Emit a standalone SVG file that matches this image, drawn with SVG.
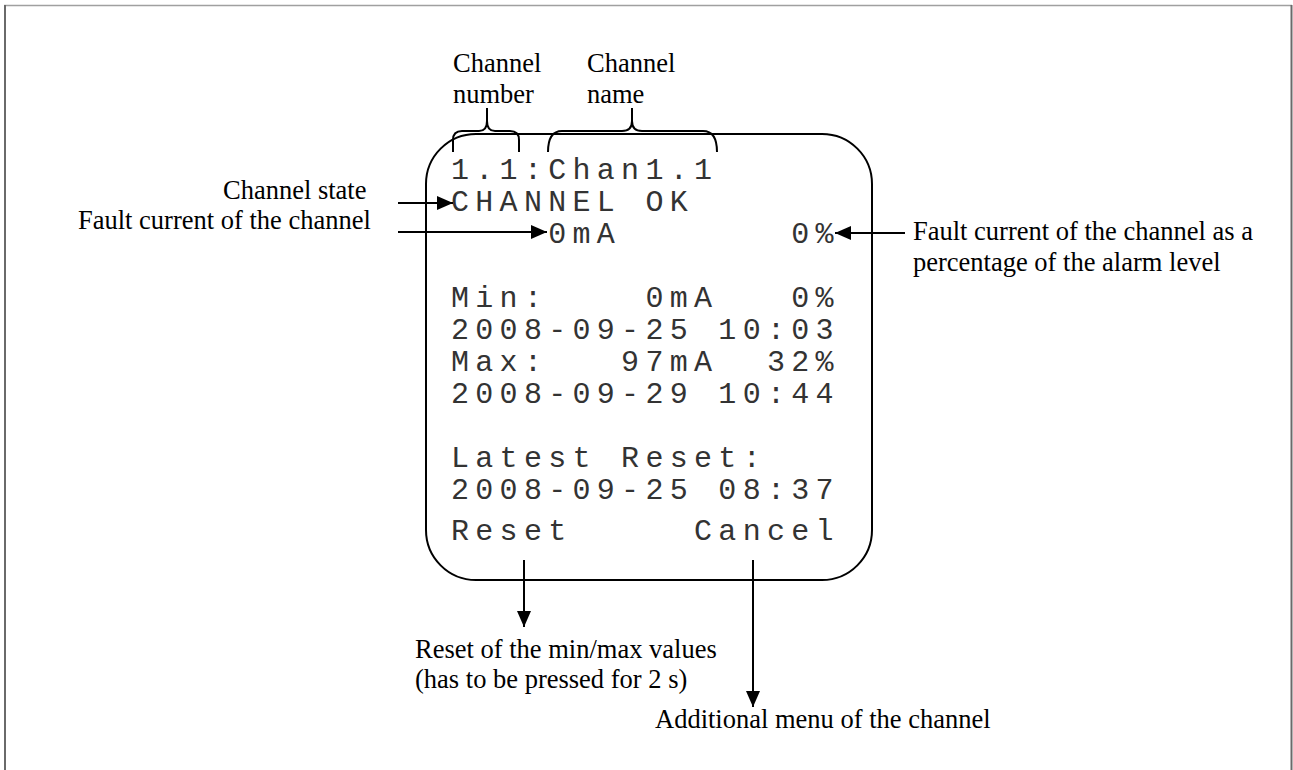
<svg xmlns="http://www.w3.org/2000/svg" width="1293" height="770" viewBox="0 0 1293 770">
  <style>
    .label { font-family: "Liberation Serif", "Times New Roman", serif; font-size: 26.5px; fill: #000; }
    .mono { font-family: "Liberation Mono", "Courier New", monospace; font-size: 30px; letter-spacing: 6.3px; fill: #333; }
    .wire { fill: none; stroke: #000; stroke-width: 2; }
    .brace { fill: none; stroke: #000; stroke-width: 2; stroke-linejoin: round; }
  </style>
  <defs>
    <marker id="head" markerUnits="userSpaceOnUse" markerWidth="16" markerHeight="14" refX="16" refY="7" orient="auto">
      <path d="M0,0 L16,7 L0,14 z" fill="#000"/>
    </marker>
  </defs>

  <rect width="1293" height="770" fill="#fff"/>

  <!-- page frame -->
  <g id="frame">
    <line x1="4" y1="5.5" x2="1292" y2="5.5" stroke="#a0a0a0" stroke-width="1.5"/>
    <line x1="5" y1="5" x2="5" y2="770" stroke="#6a6a6a" stroke-width="2"/>
    <line x1="1291.5" y1="5" x2="1291.5" y2="770" stroke="#6a6a6a" stroke-width="2"/>
  </g>

  <!-- display screen -->
  <g id="screen">
    <rect x="426" y="134" width="446" height="446" rx="50" ry="50" fill="none" stroke="#000" stroke-width="2"/>
    <text class="mono" x="451" y="179">1.1:Chan1.1</text>
    <text class="mono" x="451" y="211">CHANNEL OK</text>
    <text class="mono" x="451" y="243" xml:space="preserve">    0mA       0%</text>
    <text class="mono" x="451" y="307" xml:space="preserve">Min:    0mA   0%</text>
    <text class="mono" x="451" y="339">2008-09-25 10:03</text>
    <text class="mono" x="451" y="371" xml:space="preserve">Max:   97mA  32%</text>
    <text class="mono" x="451" y="403">2008-09-29 10:44</text>
    <text class="mono" x="451" y="467">Latest Reset:</text>
    <text class="mono" x="451" y="499">2008-09-25 08:37</text>
    <text class="mono" x="451" y="540" xml:space="preserve">Reset     Cancel</text>
  </g>

  <!-- channel number label with brace -->
  <g id="channel-number">
    <text class="label" x="453" y="72">Channel</text>
    <text class="label" x="453" y="103">number</text>
    <path class="brace" d="M453,152 V140 Q453,131 462,131 H479 Q487,131 487,121 V108 M487,121 Q487,131 495,131 H510 Q519,131 519,140 V152"/>
  </g>

  <!-- channel name label with brace -->
  <g id="channel-name">
    <text class="label" x="587" y="72">Channel</text>
    <text class="label" x="587" y="103">name</text>
    <path class="brace" d="M548,152 Q548,131 562,131 H622 Q632,131 632,121 V108 M632,121 Q632,131 642,131 H703 Q717,131 717,152"/>
  </g>

  <g id="channel-state">
    <text class="label" x="223" y="199">Channel state</text>
  </g>

  <g id="fault-current">
    <text class="label" x="78" y="229">Fault current of the channel</text>
  </g>

  <g id="fault-percent">
    <text class="label" x="913" y="240">Fault current of the channel as a</text>
    <text class="label" x="913" y="271">percentage of the alarm level</text>
  </g>

  <g id="reset-note">
    <text class="label" x="415" y="658">Reset of the min/max values</text>
    <text class="label" x="415" y="688">(has to be pressed for 2 s)</text>
  </g>

  <g id="menu-note">
    <text class="label" x="655" y="728">Additional menu of the channel</text>
  </g>

  <!-- connectors -->
  <g id="connectors">
    <path class="wire" d="M398,203 H453" marker-end="url(#head)"/>
    <path class="wire" d="M398,232 H547" marker-end="url(#head)"/>
    <path class="wire" d="M905,233 H835" marker-end="url(#head)"/>
    <path class="wire" d="M524,560 V627" marker-end="url(#head)"/>
    <path class="wire" d="M753,560 V707" marker-end="url(#head)"/>
  </g>
</svg>
